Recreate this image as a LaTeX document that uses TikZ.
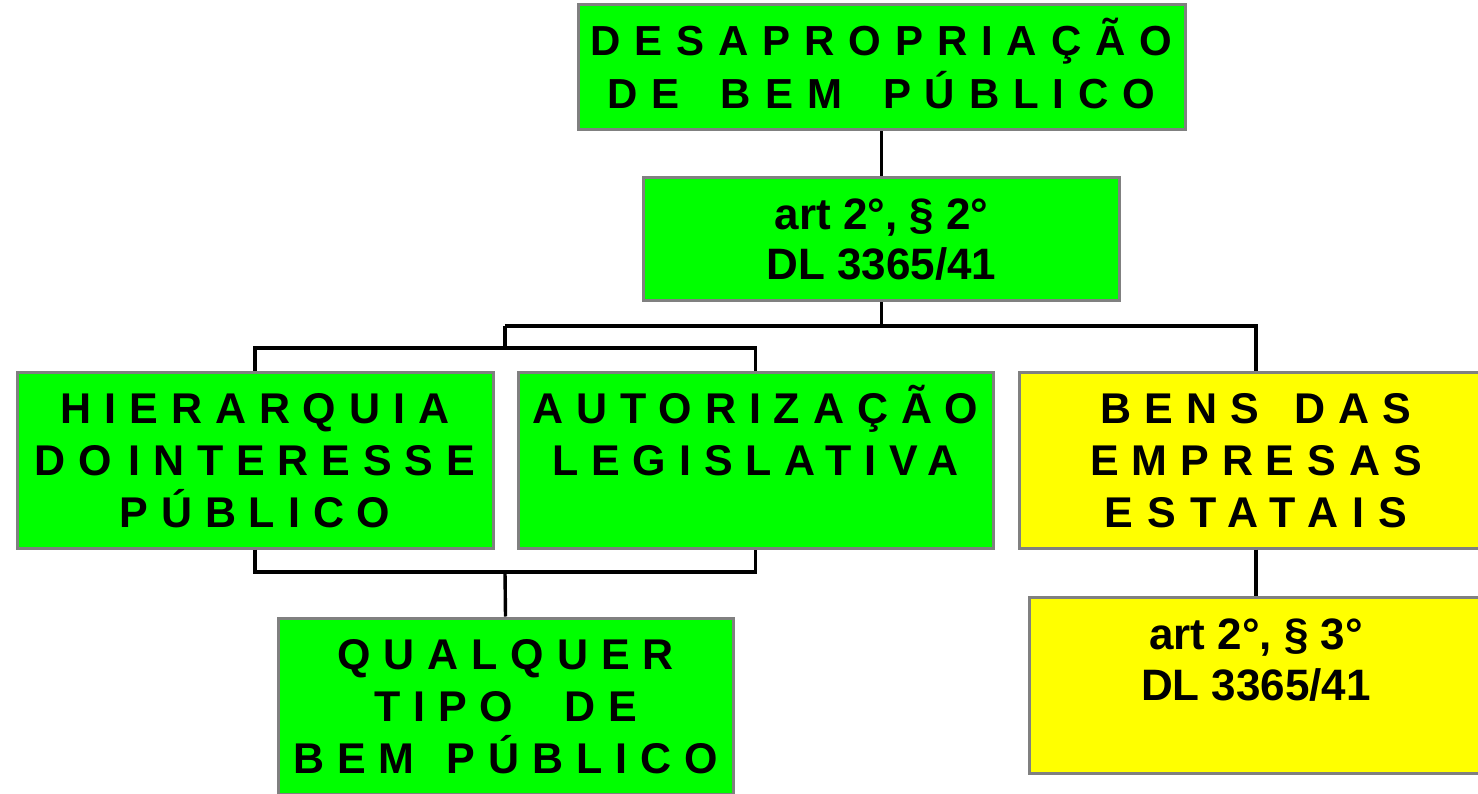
\documentclass[tikz,border=0pt]{standalone}
\usepackage{fontspec}
\setmainfont{Liberation Sans}
\definecolor{boxgreen}{HTML}{00FF00}
\definecolor{boxyellow}{HTML}{FFFF00}
\definecolor{boxborder}{HTML}{808080}
\newcommand{\spc}[2]{{\addfontfeatures{LetterSpace=#1}#2}}
\tikzset{
  box/.style={draw=boxborder, line width=3pt, inner sep=0pt, align=center},
  gbox/.style={box, fill=boxgreen},
  ybox/.style={box, fill=boxyellow},
  big/.style={font=\bfseries\fontsize{43}{52}\selectfont, text height=135pt, text depth=0pt},
  ref/.style={font=\bfseries\fontsize{44}{50}\selectfont},
  conn/.style={line width=3.4pt, black}
}
\begin{document}
\begin{tikzpicture}[x=1pt, y=-1pt]
\useasboundingbox (0,0) rectangle (1478,794);
\clip (0,0) rectangle (1478,794);
\node[gbox, minimum width=607, minimum height=125, font=\bfseries\fontsize{42}{53}\selectfont,
      text height=83pt, text depth=0pt] (top) at (881.5,67.5)
  {\spc{33}{DESAPROPRIAÇÃO}\\\spc{33}{DE\hspace{41pt}BEM\hspace{41pt}PÚBLICO}};
\node[gbox, ref, minimum width=476, minimum height=123, text height=81pt, text depth=0pt] (art2) at (881.5,239.5)
  {art 2°, § 2°\\DL 3365/41};
\node[gbox, big, minimum width=476, minimum height=176] (hier) at (255,460)
  {\spc{30}{HIERARQUIA}\\\spc{30}{DO\hspace{16pt}INTERESSE}\\\spc{30}{PÚBLICO}};
\node[gbox, big, minimum width=475, minimum height=176] (aut) at (755.5,460)
  {\spc{30}{AUTORIZAÇÃO}\\\spc{30}{LEGISLATIVA}\\\mbox{}};
\node[ybox, big, minimum width=474, minimum height=176] (bens) at (1256,460)
  {\spc{30}{BENS\hspace{36pt}DAS}\\\spc{30}{EMPRESAS}\\\spc{33}{ESTATAIS}};
\node[gbox, big, minimum width=455, minimum height=176] (qual) at (505.5,706)
  {\spc{30}{QUALQUER}\\\spc{30}{TIPO\hspace{51pt}DE}\\\spc{30}{BEM\hspace{32pt}PÚBLICO}};
\node[ybox, font=\bfseries\fontsize{44}{51}\selectfont, text height=133pt, text depth=0pt,
      minimum width=454, minimum height=176] (art3) at (1256,685)
  {art 2°, § 3°\\DL 3365/41\\\mbox{}};
\coordinate (j1) at (881.5,326);
\coordinate (j2) at (505,348);
\coordinate (j4) at (505,572);
\draw[conn] (top.south) -- (art2.north);
\draw[conn] (art2.south) -- (j1);
\draw[conn] (j2 |- j1) -- (bens.north |- j1) -- (bens.north);
\draw[conn] (j2 |- j1) -- (j2);
\draw[conn] (hier.north) -- (hier.north |- j2) -- (aut.north |- j2) -- (aut.north);
\draw[conn] (hier.south) -- (hier.south |- j4) -- (aut.south |- j4) -- (aut.south);
\draw[conn] (j4) -- (qual.north);
\draw[conn] (bens.south) -- (art3.north);
\end{tikzpicture}
\end{document}
